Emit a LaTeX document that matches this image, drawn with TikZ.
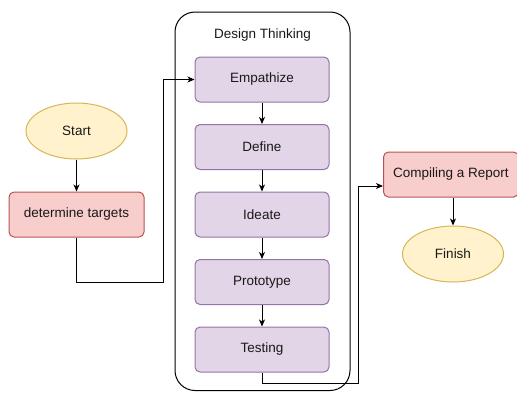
\documentclass[tikz,border=0pt]{standalone}
\usepackage{fontspec}
\setmainfont{Liberation Sans}
\usetikzlibrary{arrows.meta,shapes.geometric}
\definecolor{pfill}{HTML}{E1D5E7}
\definecolor{pdraw}{HTML}{9673A6}
\definecolor{rfill}{HTML}{F8CECC}
\definecolor{rdraw}{HTML}{B85450}
\definecolor{yfill}{HTML}{FFF2CC}
\definecolor{ydraw}{HTML}{D6B656}
\tikzset{
  base/.style={font=\fontsize{13.5}{16}\selectfont, text=black!90, line width=1pt, inner sep=0pt},
  pbox/.style={base, draw=pdraw, fill=pfill, rounded corners=5pt, minimum width=134pt, minimum height=45pt},
  rbox/.style={base, draw=rdraw, fill=rfill, rounded corners=5pt, minimum width=135pt, minimum height=45pt},
  ybox/.style={base, ellipse, draw=ydraw, fill=yfill, minimum width=101pt, minimum height=56pt},
  conn/.style={line width=1pt, -{Stealth[length=7pt,width=6pt,inset=2pt]}},
}
\begin{document}
\begin{tikzpicture}[x=1pt,y=-1pt]
\useasboundingbox (0,0) rectangle (517,392);
% container
\draw[line width=1pt, rounded corners=20pt] (175,12) rectangle (350,390.5);
\node[base] (dtitle) at (262.5,35) {Design Thinking};
% design thinking steps
\node[pbox] (emp) at (262,79.5) {Empathize};
\node[pbox] (def) at (262,147) {Define};
\node[pbox] (ide) at (262,214.5) {Ideate};
\node[pbox] (pro) at (262,282) {Prototype};
\node[pbox] (tes) at (262,349.5) {Testing};
% left
\node[ybox] (start) at (76.5,131) {Start};
\node[rbox] (dt) at (76.5,214.5) {determine targets};
% right
\node[rbox] (cr) at (451,174.5) {Compiling a Report};
\node[ybox] (fin) at (453,254) {Finish};
% coordinates
\coordinate (c1) at (163,282);
\coordinate (c2) at (358,383);
% connectors
\draw[conn] (start) -- (dt);
\draw[conn] (dt.south) |- (c1) |- (emp.west);
\draw[conn] (emp) -- (def);
\draw[conn] (def) -- (ide);
\draw[conn] (ide) -- (pro);
\draw[conn] (pro) -- (tes);
\draw[conn] (tes.south) |- (c2) |- ([yshift=-11.5pt]cr.west);
\draw[conn] (cr.south -| fin) -- (fin);
\end{tikzpicture}
\end{document}
